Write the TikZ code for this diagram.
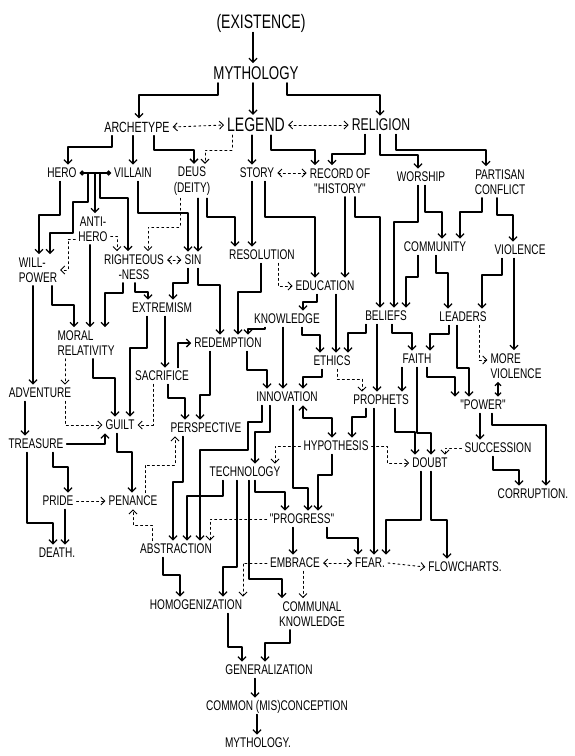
\documentclass[tikz,border=0pt]{standalone}
\usepackage{fontspec}
\setmainfont{Liberation Sans}
\newfontfamily\handfont{Liberation Sans}[FakeStretch=0.72]
\usetikzlibrary{arrows.meta}

\begin{document}
\begin{tikzpicture}[x=1pt,y=-1pt,>={Straight Barb[length=4pt,width=8pt]},
  line width=1.3pt,line cap=round,line join=round,
  word/.style={inner sep=2.5pt,text height=10pt,text depth=0.5pt,font=\handfont\fontsize{14}{15}\selectfont},
  big/.style={word,text height=13pt,font=\handfont\fontsize{18.5}{20}\selectfont},
  pair/.style={inner sep=2.5pt,align=center,font=\handfont\fontsize{14}{15.5}\selectfont},
  dar/.style={line width=0.9pt,dash pattern=on 2pt off 3pt}]
  \fill[white] (0,0) rectangle (575,756);
  \useasboundingbox (0,0) rectangle (575,756);

  % words
  \node[big,text height=14pt,font=\handfont\fontsize{19.5}{21}\selectfont] (ex) at (261,22) {(EXISTENCE)};
  \node[big] (myth) at (256,73) {MYTHOLOGY};
  \node[big,text height=10.5pt,font=\handfont\fontsize{14.8}{16}\selectfont] (arch) at (137,127) {ARCHETYPE};
  \node[big,text height=13.5pt,font=\handfont\fontsize{19.5}{21}\selectfont] (leg) at (256,125) {LEGEND};
  \node[big,text height=12pt,font=\handfont\fontsize{17}{19}\selectfont] (rel) at (381,125) {RELIGION};
  \node[word] (hero) at (62,173) {HERO};
  \node[word] (vil) at (133,173) {VILLAIN};
  \node[pair] (deus) at (192,181) {DEUS\\(DEITY)};
  \node[word] (story) at (257,173) {STORY};
  \node[pair] (rec) at (340,181) {RECORD OF\\"HISTORY"};
  \node[word] (wor) at (421,177) {WORSHIP};
  \node[pair] (part) at (500,182) {PARTISAN\\CONFLICT};
  \node[pair] (anti) at (93,229) {ANTI-\\HERO};
  \node[pair,align=left] (wp) at (38,270) {WILL-\\POWER};
  \node[pair] (right) at (134,267) {RIGHTEOUS\\-NESS};
  \node[word] (sin) at (193,260) {SIN};
  \node[word] (res) at (262,255) {RESOLUTION};
  \node[word] (comm) at (435,247) {COMMUNITY};
  \node[word] (viol) at (520,250) {VIOLENCE};
  \node[word] (edu) at (325,286) {EDUCATION};
  \node[word] (ext) at (162,308) {EXTREMISM};
  \node[word] (know) at (287,319) {KNOWLEDGE};
  \node[word] (bel) at (386,316) {BELIEFS};
  \node[word] (lead) at (463,317) {LEADERS};
  \node[pair,align=left] (moral) at (86,343) {MORAL\\RELATIVITY};
  \node[word] (red) at (228,343) {REDEMPTION};
  \node[word] (eth) at (332,361) {ETHICS};
  \node[word] (faith) at (417,359) {FAITH};
  \node[pair,align=left] (more) at (516,366) {MORE\\VIOLENCE};
  \node[word] (sac) at (162,376) {SACRIFICE};
  \node[word] (adv) at (40,393) {ADVENTURE};
  \node[word] (inn) at (287,397) {INNOVATION};
  \node[word] (proph) at (381,400) {PROPHETS};
  \node[word] (pow) at (483,405) {"POWER"};
  \node[word] (guilt) at (120,425) {GUILT};
  \node[word] (persp) at (206,428) {PERSPECTIVE};
  \node[word] (treas) at (36,444) {TREASURE};
  \node[word] (hyp) at (336,446) {HYPOTHESIS};
  \node[word] (succ) at (498,448) {SUCCESSION};
  \node[word] (doubt) at (430,463) {DOUBT};
  \node[word] (tech) at (245,472) {TECHNOLOGY};
  \node[word] (corr) at (533,494) {CORRUPTION.};
  \node[word] (pride) at (58,501) {PRIDE};
  \node[word] (pen) at (133,501) {PENANCE};
  \node[word] (prog) at (302,519) {"PROGRESS"};
  \node[word] (abs) at (176,549) {ABSTRACTION};
  \node[word] (death) at (57,553) {DEATH.};
  \node[word] (emb) at (295,563) {EMBRACE};
  \node[word] (fear) at (370,563) {FEAR.};
  \node[word] (flow) at (465,567) {FLOWCHARTS.};
  \node[word] (homo) at (196,605) {HOMOGENIZATION};
  \node[pair] (cknow) at (312,614) {COMMUNAL\\KNOWLEDGE};
  \node[word] (gen) at (269,670) {GENERALIZATION};
  \node[word] (common) at (277,706) {COMMON (MIS)CONCEPTION};
  \node[word] (myth2) at (258,743) {MYTHOLOGY.};

  % top
  \draw[->] (253,0 |- ex.south) -- (253,0 |- myth.north);
  \draw[->] (218,0 |- myth.south) -- (218,95) -| (139,0 |- arch.north);
  \draw[->] (253,0 |- myth.south) -- (253,0 |- leg.north);
  \draw[->] (287,0 |- myth.south) -- (287,95) -| (380,0 |- rel.north);
  \draw[dar,<->] (arch.east) -- (leg.west);
  \draw[dar,<->] (leg.east) -- (rel.west);
  \draw[->] (112,0 |- arch.south) -- (112,147) -| (68,0 |- hero.north);
  \draw[->] (133,0 |- arch.south) -- (133,0 |- vil.north);
  \draw[->] (154,0 |- arch.south) -- (154,150) -| (194,0 |- deus.north);
  \draw[dar,->] (232,0 |- leg.south) -- (232,150) -| (205,0 |- deus.north);
  \draw[->] (252,0 |- leg.south) -- (252,0 |- story.north);
  \draw[->] (271,0 |- leg.south) -- (271,150) -| (315,0 |- rec.north);
  \draw[->] (365,0 |- rel.south) -- (365,154) -| (332,0 |- rec.north);
  \draw[->] (380,0 |- rel.south) -- (380,155) -| (418,0 |- wor.north);
  \draw[->] (396,0 |- rel.south) -- (396,150) -| (486,0 |- part.north);
  \draw[dar,<->] (story.east) -- (rec.west |- story.east);

  % hero, villain, deus
  \draw[{Circle[length=5pt]}-{Circle[length=5pt]}] (hero.east) -- (vil.west);
  \draw[->] (88,0 |- hero.east) -- (88,202) -| (73,233) -| (50,0 |- wp.north);
  \draw[->] (95,0 |- hero.east) -- (95,0 |- anti.north);
  \draw[->] (100,0 |- hero.east) -- (100,198) -| (128,0 |- right.north);
  \draw[->] (60,0 |- hero.south) -- (60,215) -| (39,0 |- wp.north);
  \draw[->] (138,0 |- vil.south) -- (138,213) -| (188,0 |- sin.north);
  \draw[dar,->] (180,0 |- deus.south) -- (180,227) -| (148,0 |- right.north);
  \draw[->] (198,0 |- deus.south) -- (198,0 |- sin.north);
  \draw[->] (207,0 |- deus.south) -- (207,217) -| (235,0 |- res.north);
  \draw[dar,->] (anti.west |- 0,239) -| (68,270) -- (wp.east |- 0,270);
  \draw[dar,->] (anti.east |- 0,236) -| (117,0 |- right.north);
  \draw[->] (90,0 |- anti.south) -- (90,0 |- moral.north);
  \draw[->] (123,0 |- right.south) -- (123,293) -| (105,0 |- moral.north);
  \draw[->] (135,0 |- right.south) -- (135,292) -| (148,0 |- ext.north);
  \draw[dar,<->] (right.east |- sin) -- (sin.west);
  \draw[->] (52,0 |- wp.south) -- (52,305) -| (74,0 |- moral.north);
  \draw[->] (33,0 |- wp.south) -- (33,0 |- adv.north);
  \draw[->] (188,0 |- sin.south) -- (188,283) -| (173,0 |- ext.north);
  \draw[->] (198,0 |- sin.south) -- (198,285) -| (220,0 |- red.north);

  % story, record, religion side
  \draw[->] (261,0 |- res.south) -- (261,292) -| (238,0 |- red.north);
  \draw[dar,->] (278,0 |- res.south) |- (edu.west);
  \draw[->] (252,0 |- story.south) -- (252,0 |- res.north);
  \draw[->] (265,0 |- story.south) -- (265,217) -| (315,0 |- edu.north);
  \draw[->] (345,0 |- rec.south) -- (345,0 |- edu.north);
  \draw[->] (355,0 |- rec.south) -- (355,217) -| (380,0 |- bel.north);
  \draw[->] (418,0 |- wor.south) -- (418,222) -| (394,0 |- bel.north);
  \draw[->] (425,0 |- wor.south) -- (425,212) -| (442,0 |- comm.north);
  \draw[->] (482,0 |- part.south) -- (482,212) -| (460,0 |- comm.north);
  \draw[->] (497,0 |- part.south) -- (497,215) -| (513,0 |- viol.north);
  \draw[->] (418,0 |- comm.south) -- (418,277) -| (406,0 |- bel.north);
  \draw[->] (436,0 |- comm.south) -- (436,273) -| (448,0 |- lead.north);
  \draw[->] (502,0 |- viol.south) -- (502,275) -| (482,0 |- lead.north);
  \draw[->] (514,0 |- viol.south) -- (514,0 |- more.north);

  % middle
  \draw[->] (317,0 |- edu.south) -- (317,302) -| (303,0 |- know.north);
  \draw[->] (336,0 |- edu.south) -- (336,0 |- eth.north);
  \draw[->] (265,0 |- know.south) -- (265,329) -| (248,0 |- red.north);
  \draw[->] (283,0 |- know.south) -- (283,0 |- inn.north);
  \draw[->] (302,0 |- know.south) -- (302,335) -| (320,0 |- eth.north);
  \draw[->] (366,0 |- bel.south) -- (366,333) -| (348,0 |- eth.north);
  \draw[->] (377,0 |- bel.south) -- (377,0 |- proph.north);
  \draw[->] (392,0 |- bel.south) -- (392,333) -| (412,0 |- faith.north);
  \draw[->] (449,0 |- lead.south) -- (449,334) -| (430,0 |- faith.north);
  \draw[->] (457,0 |- lead.south) -- (457,368) -| (469,0 |- pow.north);
  \draw[dar,->] (479,0 |- lead.south) -- (479,360) -- (more.west |- 0,360);
  \draw[{Straight Barb[length=3pt,width=6pt]}-{Straight Barb[length=3pt,width=6pt]}] (498,0 |- more.south) -- (498,0 |- pow.north);
  \draw[->] (322,0 |- eth.south) -- (322,377) -| (303,0 |- inn.north);
  \draw[dar,->] (337,0 |- eth.south) -- (337,379) -| (362,0 |- proph.north);
  \draw[->] (402,0 |- faith.south) -- (402,0 |- proph.north);
  \draw[->] (417,0 |- faith.south) -- (417,433) -| (431,0 |- doubt.north);
  \draw[->] (427,0 |- faith.south) -- (427,377) -| (455,0 |- pow.north);
  \draw[->] (366,0 |- proph.south) -- (366,417) -| (352,0 |- hyp.north);
  \draw[->] (395,0 |- proph.south) -- (395,432) -| (415,0 |- doubt.north);
  \draw[->] (374,0 |- proph.south) -- (374,0 |- fear.north);
  \draw[<->] (303,0 |- inn.south) -- (303,418) -| (332,0 |- hyp.north);
  \draw[->] (293,0 |- inn.south) -- (293,488) -| (308,0 |- prog.north);
  \draw[->] (270,0 |- inn.south) -- (270,432) -| (255,0 |- tech.north);
  \draw[->] (262,0 |- inn.south) -- (262,422) -| (248,450) -| (200,0 |- abs.north);
  \draw[dar,->] (hyp.west) -| (275,0 |- tech.north);
  \draw[dar,->] (hyp.east) -| (387,463) -- (doubt.west);
  \draw[->] (332,0 |- hyp.south) -- (332,475) -| (318,0 |- prog.north);
  \draw[dar,->] (succ.west) -| (445,0 |- doubt.north);
  \draw[->] (480,0 |- pow.south) -- (480,0 |- succ.north);
  \draw[->] (492,0 |- pow.south) -- (492,425) -| (546,0 |- corr.north);
  \draw[->] (493,0 |- succ.south) -- (493,470) -| (519,0 |- corr.north);
  \draw[->] (421,0 |- doubt.south) -- (421,520) -| (386,0 |- fear.north);
  \draw[->] (431,0 |- doubt.south) -- (431,520) -| (447,0 |- flow.north);

  % lower
  \draw[->] (327,0 |- prog.south) -- (327,538) -| (358,0 |- fear.north);
  \draw[->] (293,0 |- prog.south) -- (293,0 |- emb.north);
  \draw[dar,->] (prog.west) -| (210,0 |- abs.north);
  \draw[->] (255,0 |- tech.south) -- (255,492) -| (285,0 |- prog.north);
  \draw[->] (223,0 |- tech.south) -- (223,496) -| (187,0 |- abs.north);
  \draw[->] (237,0 |- tech.south) -- (237,567) -| (223,0 |- homo.north);
  \draw[->] (249,0 |- tech.south) -- (249,579) -| (282,0 |- cknow.north);
  \draw[dar,->] (emb.west) -| (243,0 |- homo.north);
  \draw[dar,->] (303,0 |- emb.south) -- (303,0 |- cknow.north);
  \draw[dar,<->] (emb.east) -- (fear.west);
  \draw[dar,->] (fear.east) -- (flow.west);
  \draw[->] (183,0 |- persp.south) -- (183,482) -| (173,0 |- abs.north);
  \draw[dar,->] (145,0 |- pen.north) -- (145,465) -| (175,0 |- persp.south);
  \draw[dar,->] (152,0 |- abs.north) -- (152,525) -| (133,0 |- pen.south);
  \draw[->] (117,0 |- guilt.south) -- (117,452) -| (132,0 |- pen.north);
  \draw[->] (treas.east) -| (105,0 |- guilt.south);
  \draw[->] (27,0 |- treas.south) -- (27,523) -| (53,0 |- death.north);
  \draw[->] (53,0 |- treas.south) -- (53,467) -| (68,0 |- pride.north);
  \draw[->] (65,0 |- pride.south) -- (65,0 |- death.north);
  \draw[dar,->] (pride.east) -- (pen.west);
  \draw[->] (25,0 |- adv.south) -- (25,0 |- treas.north);
  \draw[dar,->] (65,0 |- moral.south) -- (65,0 |- adv.north);
  \draw[dar,->] (65,0 |- adv.south) |- (guilt.west);
  \draw[->] (93,0 |- moral.south) -- (93,378) -| (115,0 |- guilt.north);
  \draw[->] (147,0 |- ext.south) -- (147,348) -| (130,0 |- guilt.north);
  \draw[->] (165,0 |- ext.south) -- (165,0 |- sac.north);
  \draw[dar,->] (153,0 |- sac.south) |- (guilt.east);
  \draw[->] (178,0 |- sac.north) |- (red.west);
  \draw[->] (168,0 |- sac.south) -- (168,398) -| (185,0 |- persp.north);
  \draw[->] (210,0 |- red.south) -- (210,395) -| (200,0 |- persp.north);
  \draw[->] (247,0 |- red.south) -- (247,370) -| (267,0 |- inn.north);
  \draw[->] (163,0 |- abs.south) -- (163,575) -| (180,0 |- homo.north);
  \draw[->] (228,0 |- homo.south) -- (228,647) -| (242,0 |- gen.north);
  \draw[->] (290,0 |- cknow.south) -- (290,643) -| (265,0 |- gen.north);
  \draw[->] (255,0 |- gen.south) -- (255,0 |- common.north);
  \draw[->] (257,0 |- common.south) -- (257,0 |- myth2.north);
\end{tikzpicture}
\end{document}
